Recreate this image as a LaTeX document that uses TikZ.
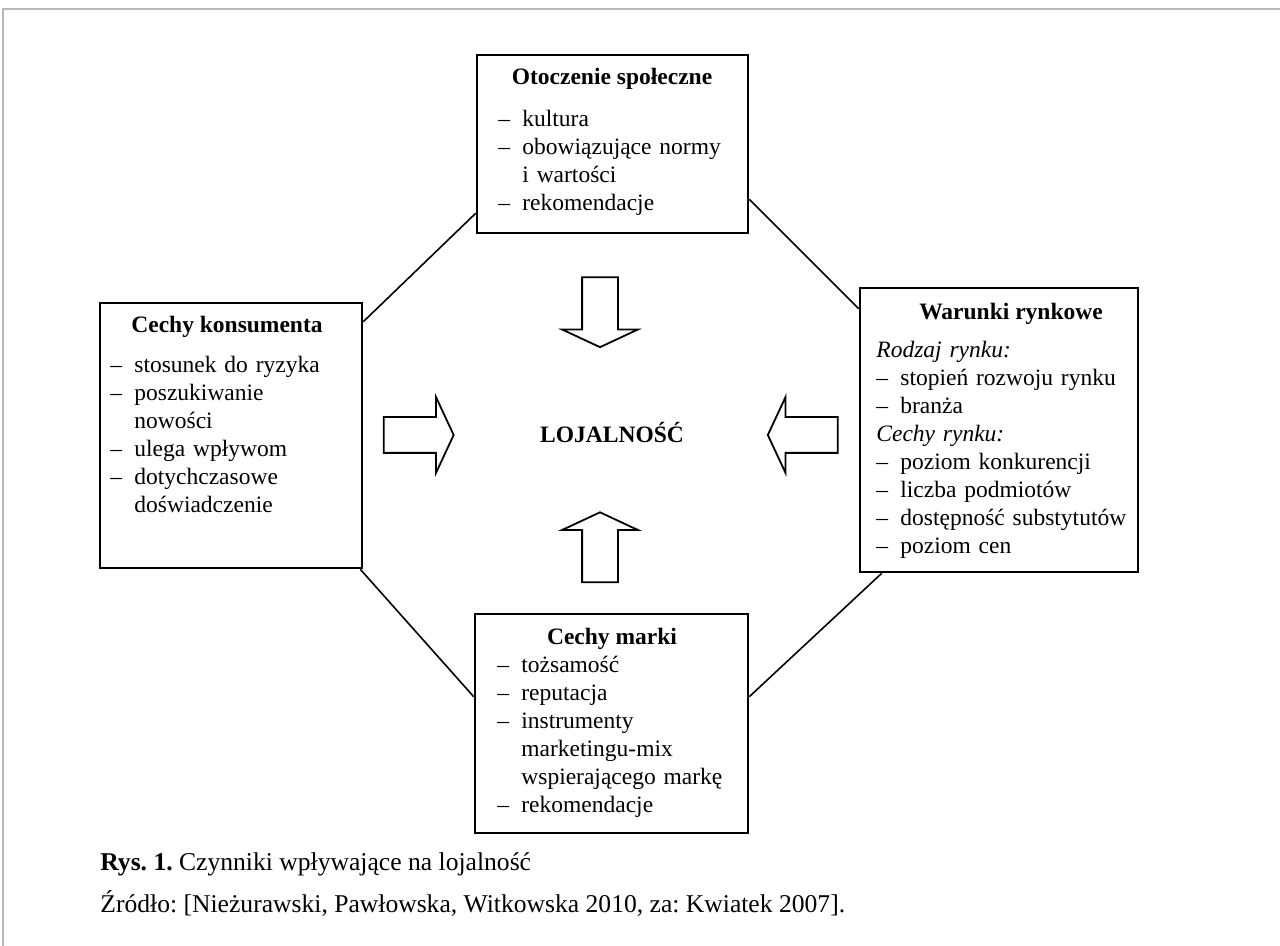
\documentclass[tikz,border=0pt]{standalone}
\usepackage{fontspec}
\setmainfont{Liberation Serif}
\usetikzlibrary{calc,shapes.arrows}
\definecolor{FrameClr}{rgb}{0.72,0.72,0.72}
\frenchspacing

% One line of a list: a dash, then the text.
\newcommand{\myrow}[1]{\noindent\strut\makebox[12pt][l]{--}#1\par}
\newcommand{\mynext}[1]{\noindent\strut\hspace*{12pt}#1\par}
\newcommand{\myhead}[1]{\noindent\strut\textit{#1}\par}

\begin{document}
\begin{tikzpicture}[x=0.5pt,y=-0.5pt,
  font=\fontsize{11.75}{14}\selectfont,
  box/.style={draw,line width=1.3pt,inner sep=0pt},
  boxtitle/.style={font=\fontsize{11.75}{14}\selectfont\bfseries,anchor=base,inner sep=0pt},
  boxlist/.style={anchor=north west,inner sep=0pt,text width=140pt,align=left},
  caption/.style={font=\fontsize{12.8}{15}\selectfont,anchor=base west,inner sep=0pt},
  link/.style={line width=0.8pt},
  bigarrow/.style={draw,line width=0.9pt,single arrow,inner sep=8.5pt,
    minimum height=35pt,minimum width=37pt,
    single arrow head extend=10pt,single arrow tip angle=130}]
\useasboundingbox (0,0) rectangle (1280,946);

% Frame of the page.
\draw[FrameClr,line width=0.6pt] (1280,9) -- (3,9) -- (3,946);

% The four boxes.
\node[box,minimum width=135.5pt,minimum height=89pt] (O) at (612.5,144) {};
\node[box,minimum width=131pt,minimum height=132.5pt] (K) at (231,435.5) {};
\node[box,minimum width=139pt,minimum height=142pt] (W) at (999,430) {};
\node[box,minimum width=136.5pt,minimum height=109.5pt] (M) at (611.5,723.5) {};

% Titles of the boxes.
\node[boxtitle] (Ot) at (612,85) {Otoczenie społeczne};
\node[boxtitle] (Kt) at (227,333) {Cechy konsumenta};
\node[boxtitle] (Wt) at (1011,320) {Warunki rynkowe};
\node[boxtitle] (Mt) at (612,644) {Cechy marki};

% Lists inside the boxes.
\node[boxlist] (Ol) at (498,107) {%
  \myrow{kultura}
  \myrow{obowiązujące normy}
  \mynext{i wartości}
  \myrow{rekomendacje}};
\node[boxlist] (Kl) at (110,353) {%
  \myrow{stosunek do ryzyka}
  \myrow{poszukiwanie}
  \mynext{nowości}
  \myrow{ulega wpływom}
  \myrow{dotychczasowe}
  \mynext{doświadczenie}};
\node[boxlist] (Wl) at (876,338) {%
  \myhead{Rodzaj rynku:}
  \myrow{stopień rozwoju rynku}
  \myrow{branża}
  \myhead{Cechy rynku:}
  \myrow{poziom konkurencji}
  \myrow{liczba podmiotów}
  \myrow{dostępność substytutów}
  \myrow{poziom cen}};
\node[boxlist] (Ml) at (497,652) {%
  \myrow{tożsamość}
  \myrow{reputacja}
  \myrow{instrumenty}
  \mynext{marketingu-mix}
  \mynext{wspierającego markę}
  \myrow{rekomendacje}};

% Centre and the four arrows.
\node[boxtitle] (L) at (612,443) {LOJALNOŚĆ};
\node[bigarrow,shape border rotate=0] (aK) at (414.5,435) {};
\node[bigarrow,shape border rotate=180] (aW) at (807,435) {};
\node[bigarrow,shape border rotate=270] (aO) at (600,308) {};
\node[bigarrow,shape border rotate=90] (aM) at (600,551.5) {};

% Lines joining the boxes.
\draw[link] ($(K.north east)+(0,20)$) -- ($(O.south west)+(0,-21)$);
\draw[link] ($(O.south east)+(0,-35)$) -- ($(W.north west)+(0,22)$);
\draw[link] ($(W.south west)+(23,0)$) -- ($(M.north east)+(0,84)$);
\draw[link] ($(K.south east)+(-3,0)$) -- ($(M.north west)+(0,84)$);

% Caption.
\node[caption] (rys) at (100,870)
  {\textbf{Rys. 1.} Czynniki wpływające na lojalność};
\node[caption] (zrodlo) at (100,912)
  {Źródło: [Nieżurawski, Pawłowska, Witkowska 2010, za: Kwiatek 2007].};
\end{tikzpicture}
\end{document}
